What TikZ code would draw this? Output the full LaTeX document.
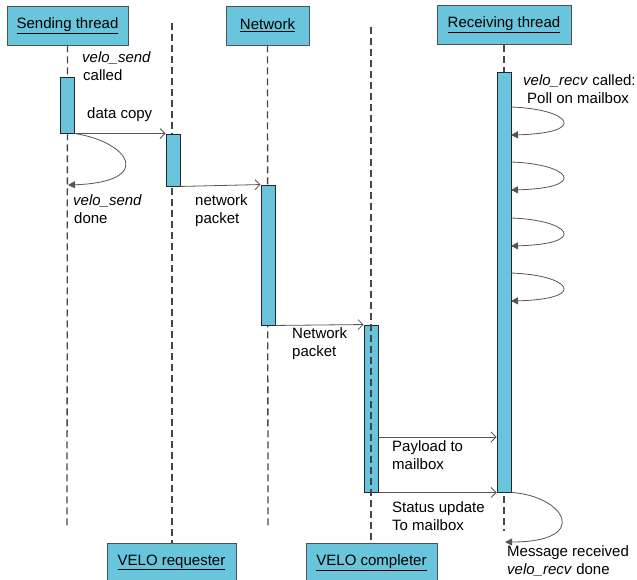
\documentclass[tikz,border=0pt]{standalone}
\usepackage{fontspec}
\setmainfont{Liberation Sans}
\usetikzlibrary{arrows.meta}
\definecolor{boxfill}{RGB}{104,197,219}
\definecolor{boxline}{RGB}{80,80,80}
\definecolor{lifec}{RGB}{70,70,70}
\definecolor{msgc}{RGB}{85,85,85}
\tikzset{
  head/.style={draw=boxline, line width=0.9pt, fill=boxfill, inner sep=0pt, minimum height=39pt, font=\fontsize{15}{18}\selectfont},
  actbar/.style={draw=black!85, line width=0.9pt, fill=boxfill, inner sep=0pt, minimum width=14pt},
  life/.style={draw=lifec, line width=1.3pt, dash pattern=on 7pt off 4pt},
  msg/.style={draw=msgc, line width=0.8pt, -{Straight Barb[length=5pt,width=10pt,line width=0.8pt]}},
  selfmsg/.style={draw=msgc, line width=0.8pt, -{Triangle[length=7pt,width=7pt]}},
  lbl/.style={inner sep=0pt, anchor=base west, font=\fontsize{15}{18}\selectfont},
}
\begin{document}
\begin{tikzpicture}[x=1pt,y=-1pt]
\useasboundingbox (0,0) rectangle (637,580);
% header boxes
\node[head, minimum width=121pt] (st) at (67.5,25.5) {\underline{Sending thread}};
\node[head, minimum width=83pt] (nw) at (267.5,25.5) {\underline{Network}};
\node[head, minimum width=134pt] (rt) at (504,25) {\underline{Receiving thread}};
\node[head, minimum width=129pt] (rq) at (171.5,562.5) {\underline{VELO requester}};
\node[head, minimum width=131pt] (cm) at (371.5,562.5) {\underline{VELO completer}};
% lifeline ends
\coordinate (stend) at (67,528);
\coordinate (nwend) at (268,528);
\coordinate (rtend) at (504,531);
\coordinate (rqtop) at (172,23);
\coordinate (cmtop) at (371,27);
% lifelines
\draw[life] (st.south) -- (stend);
\draw[life] (nw.south) -- (nwend);
\draw[life] (rt.south) -- (rtend);
\draw[life] (rqtop) -- (rq.north -| rqtop);
% activation bars
\node[actbar, minimum height=56pt] (sb) at (67,105) {};
\node[actbar, minimum height=52pt] (rqb) at (173,160) {};
\node[actbar, minimum height=140pt] (nb) at (268,255) {};
\node[actbar, minimum height=167pt] (cb) at (371,408.5) {};
\node[actbar, minimum height=420pt] (rb) at (504,282) {};
\draw[life] (cmtop) -- (cm.north -| cmtop);
% messages
\coordinate (pl) at (0,437);
\draw[msg] (sb.south east) -- (rqb.north west);
\draw[msg] (rqb.south east) -- (nb.north west);
\draw[msg] (nb.south east) -- (cb.north west);
\draw[msg] (cb.east |- pl) -- (rb.west |- pl);
\draw[msg] (cb.south east) -- (rb.south west);
% self messages
\coordinate (sdone) at (68,185);
\draw[selfmsg] (sb.south east) .. controls (130,142) and (155,182) .. (sdone);
\foreach \y [count=\i] in {107,162,218,273}{
  \coordinate (ps\i) at (511,\y);
  \coordinate (pe\i) at (511,\y+28);
  \draw[selfmsg] (ps\i) .. controls (570,\y+2) and (590,\y+26) .. (pe\i);
}
\coordinate (rdone) at (505,542);
\draw[selfmsg] (rb.south east) .. controls (565,496) and (592,542) .. (rdone);
% labels
\node[lbl] (l1a) at (82,63) {\textit{velo\_send}};
\node[lbl] (l1b) at (83,81) {called};
\node[lbl] (l2) at (87,119) {data copy};
\node[lbl] (l3a) at (73,206) {\textit{velo\_send}};
\node[lbl] (l3b) at (74,224) {done};
\node[lbl] (l4a) at (195,206) {network};
\node[lbl] (l4b) at (195,224) {packet};
\node[lbl] (l5a) at (292,338) {Network};
\node[lbl] (l5b) at (292,356) {packet};
\node[lbl] (l6a) at (392,451) {Payload to};
\node[lbl] (l6b) at (392,469) {mailbox};
\node[lbl] (l7a) at (392,512) {Status update};
\node[lbl] (l7b) at (392,530) {To mailbox};
\node[lbl] (l8a) at (507,556) {Message received};
\node[lbl] (l8b) at (507,574) {\textit{velo\_recv} done};
\node[lbl] (l9a) at (523,86) {\textit{velo\_recv} called:};
\node[lbl] (l9b) at (527,104) {Poll on mailbox};
\end{tikzpicture}
\end{document}
